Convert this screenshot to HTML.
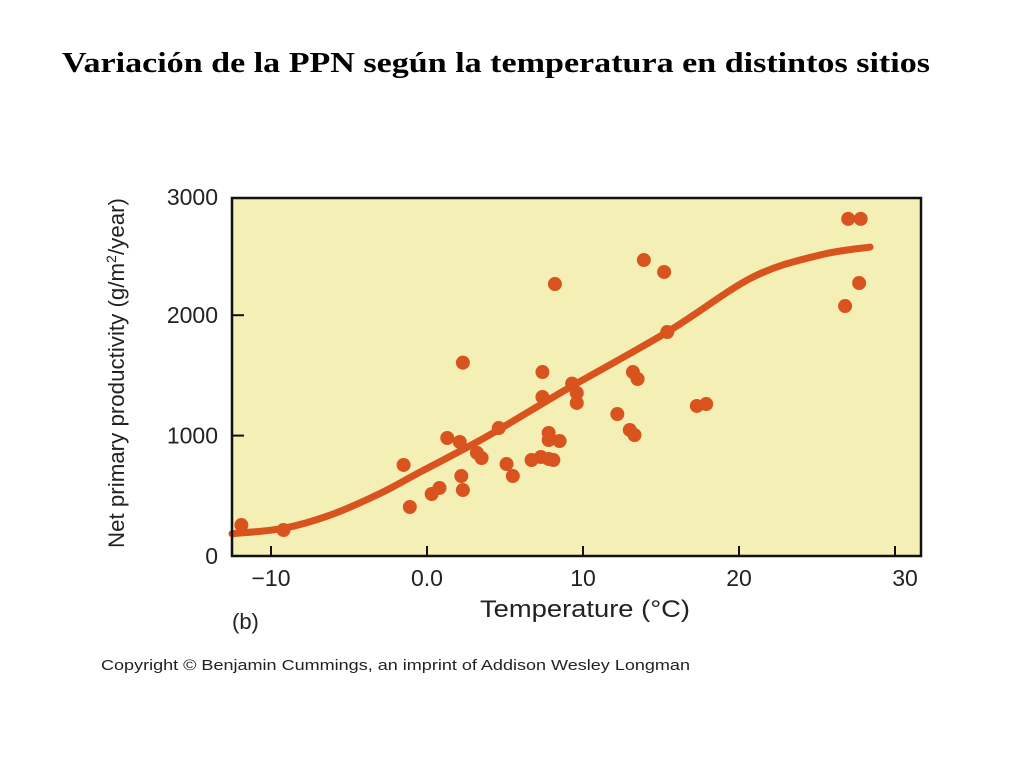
<!DOCTYPE html>
<html><head><meta charset="utf-8"><style>
body{margin:0;width:1024px;height:768px;background:#fff;overflow:hidden}
svg{position:absolute;left:0;top:0}
</style></head><body>
<svg width="1024" height="768">
<text x="62" y="72" font-family="Liberation Serif, serif" font-weight="bold" font-size="29" fill="#000" textLength="868" lengthAdjust="spacingAndGlyphs">Variación de la PPN según la temperatura en distintos sitios</text>
<rect x="232" y="198" width="689" height="358" fill="#f3efb5"/>
<g id="ticks"></g>
<path id="curve" fill="none" stroke="#d9531e" stroke-width="7" stroke-linecap="round"/>
<g id="pts"></g>
<rect x="232" y="198" width="689" height="358" fill="none" stroke="#111" stroke-width="2.5"/>
<text transform="translate(124,373) rotate(-90)" text-anchor="middle" font-family="Liberation Sans, sans-serif" font-size="22" fill="#222" textLength="350" lengthAdjust="spacingAndGlyphs">Net primary productivity (g/m<tspan baseline-shift="super" font-size="14">2</tspan>/year)</text>
<text x="585" y="617" text-anchor="middle" font-family="Liberation Sans, sans-serif" font-size="24" fill="#222" textLength="210" lengthAdjust="spacingAndGlyphs">Temperature (°C)</text>
<text x="232" y="629" font-family="Liberation Sans, sans-serif" font-size="22" fill="#222">(b)</text>
<text x="101" y="670" font-family="Liberation Sans, sans-serif" font-size="15" fill="#222" textLength="589" lengthAdjust="spacingAndGlyphs">Copyright © Benjamin Cummings, an imprint of Addison Wesley Longman</text>
</svg>
<script>
const xTicks=[-10,0,10,20,30];
const xTickLabels=["−10","0.0","10","20","30"];
const yTicks=[0,1000,2000,3000];
const yTickLabels=["0","1000","2000","3000"];
const ptTemp=[-11.9,-9.2,-1.5,-1.1,0.3,0.8,1.3,2.1,2.2,2.3,2.3,3.2,3.5,4.6,5.1,5.5,6.7,7.3,7.4,7.4,7.8,7.8,7.8,8.1,8.2,8.5,9.3,9.6,9.6,12.2,13.0,13.2,13.3,13.5,13.9,15.2,15.4,17.3,17.9,26.8,27.0,27.8,27.7];
const ptNpp=[257,216,756,407,515,565,980,947,664,1606,548,857,814,1063,764,664,797,822,1528,1321,1022,806,963,797,2259,955,1432,1271,1354,1179,1047,1528,1005,1470,2458,2359,1860,1246,1262,2076,2800,2800,2267];
const curveTemp=[-12.5,-9.2,-6.2,-3,-0.4,3.8,9.2,15.4,20.9,25.2,28.4];
const curveNpp=[185,230,340,520,700,990,1404,1860,2317,2500,2566];
const X=t=>427+15.6*t, Y=v=>556-0.1204*v;
const NS="http://www.w3.org/2000/svg";
const tg=document.getElementById('ticks');
const svg=document.querySelector('svg');
function mk(tag,attrs,parent){const e=document.createElementNS(NS,tag);for(const k in attrs)e.setAttribute(k,attrs[k]);(parent||svg).appendChild(e);return e;}
xTicks.forEach((t,i)=>{
 const l=mk('line',{x1:X(t),x2:X(t),y1:556,y2:546,stroke:'#111','stroke-width':2},tg);
 
 
 const tx=mk('text',{x:X(t)+(i==4?10:0),y:586,'text-anchor':'middle','font-family':'Liberation Sans, sans-serif','font-size':23,fill:'#222'});
 tx.textContent=xTickLabels[i];
 
 
});
yTicks.forEach((v,i)=>{
 if(v>0&&v<3000){const l=mk('line',{x1:232,x2:244,y1:Y(v),y2:Y(v),stroke:'#111','stroke-width':2},tg);
 
 }
 const tx=mk('text',{x:218,y:Y(v)+(v==3000?10:8),'text-anchor':'end','font-family':'Liberation Sans, sans-serif','font-size':23,fill:'#222'});
 tx.textContent=yTickLabels[i];
 
 
});
const P=curveTemp.map((t,i)=>[X(t),Y(curveNpp[i])]);
let d='M'+P[0][0]+','+P[0][1];
for(let i=0;i<P.length-1;i++){const p0=P[Math.max(0,i-1)],p1=P[i],p2=P[i+1],p3=P[Math.min(P.length-1,i+2)];
 d+=` C${p1[0]+(p2[0]-p0[0])/6},${p1[1]+(p2[1]-p0[1])/6} ${p2[0]-(p3[0]-p1[0])/6},${p2[1]-(p3[1]-p1[1])/6} ${p2[0]},${p2[1]}`;}
document.getElementById('curve').setAttribute('d',d);
const pg=document.getElementById('pts');
ptTemp.forEach((t,i)=>{
 const c=mk('circle',{cx:X(t),cy:Y(ptNpp[i]),r:7,fill:'#d9531e'},pg);
 
 
});
</script>
</body></html>
